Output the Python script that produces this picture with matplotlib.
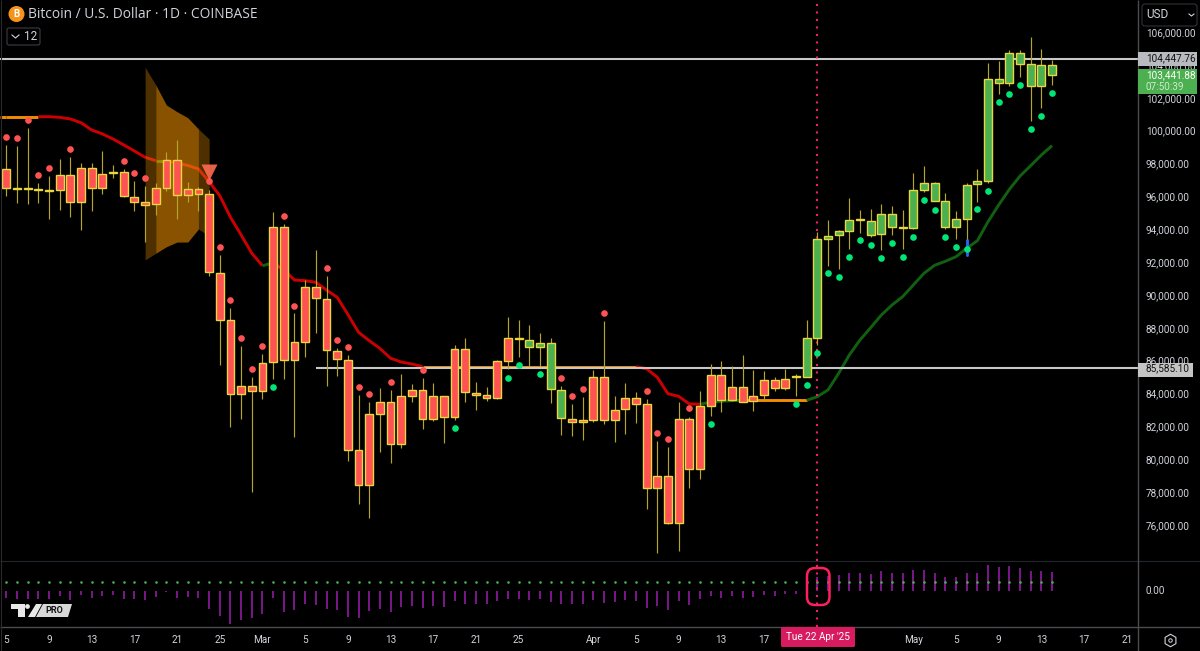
import matplotlib
matplotlib.use("Agg")
import matplotlib.pyplot as plt
from matplotlib.patches import Circle, FancyBboxPatch, Polygon, Rectangle

# day index 0 = 5 Feb '25, one candle per day up to 14 May '25
body_top = [97730, 96580, 96560, 96500, 96460, 97360, 97380, 97790, 97810, 97440,
            97560, 97530, 96040, 95720, 96550, 98270, 98270, 96490, 96510, 96190,
            91420, 88520, 84540, 84540, 85940, 94200, 94200, 87180, 90530, 90530,
            89830, 86670, 86100, 80610, 82820, 83570, 83570, 83910, 84260, 84260,
            83910, 83910, 86790, 86790, 84110, 83970, 86020, 87420, 87450, 87340,
            87140, 87120, 84300, 82530, 82450, 85090, 85070, 83080, 83770, 83770,
            83410, 79040, 79040, 82510, 82510, 83280, 85170, 85170, 84480, 84480,
            83930, 84870, 84870, 84960, 85100, 87440, 93450, 93670, 93940, 94640,
            94700, 94580, 94970, 94970, 94190, 96450, 96860, 96870, 95800, 94670,
            96770, 97000, 103190, 103190, 104770, 104770, 104100, 104070, 104070]
body_bot = [96590, 96520, 96500, 96440, 96400, 96450, 95740, 95740, 96590, 96590,
            97500, 96080, 95740, 95550, 95580, 96590, 96130, 96130, 96220, 91480,
            88540, 84050, 84050, 84230, 84230, 85960, 86100, 86100, 87220, 89860,
            86710, 86150, 80640, 78480, 78480, 82840, 81010, 81010, 83930, 82510,
            82510, 82630, 82630, 84140, 83990, 83790, 83790, 86060, 87390, 86880,
            86880, 84340, 82550, 82310, 82310, 82470, 82450, 82430, 83140, 83440,
            78290, 78290, 76200, 76200, 79490, 79490, 83320, 83670, 83670, 83570,
            83590, 83970, 84400, 84400, 85040, 85090, 87460, 93450, 93690, 93970,
            94640, 93730, 93750, 94220, 94120, 94140, 96470, 95800, 94220, 94220,
            94700, 96800, 97020, 102980, 102960, 104120, 102780, 102780, 103440]
wick_high = [99190, 99140, 100200, 96860, 97300, 98320, 98460, 98070, 98070, 98840,
             97950, 97710, 97000, 96690, 96860, 98740, 99470, 96940, 96610, 96450,
             92490, 89250, 86950, 85050, 86470, 95090, 94380, 88950, 90970, 92800,
             91220, 86810, 86410, 83970, 83530, 84380, 84260, 85250, 84640, 85010,
             84700, 83910, 87000, 87440, 84760, 84440, 86080, 88740, 88540, 88230,
             87730, 87440, 84520, 83430, 83830, 85490, 88460, 83890, 84680, 84170,
             83710, 81150, 80790, 83530, 82650, 84230, 85860, 86040, 85760, 86430,
             85480, 85450, 85050, 85540, 85250, 88540, 93910, 94620, 94010, 95940,
             95230, 95290, 95610, 95460, 95210, 97500, 97910, 96920, 96270, 95170,
             96860, 97710, 104160, 104320, 104970, 104970, 105740, 105010, 104360]
wick_low = [96100, 95640, 95580, 95640, 94680, 95210, 94790, 94030, 95190, 96220,
            97200, 96020, 95170, 93280, 94950, 96370, 94680, 95720, 95190, 91230,
            85780, 82040, 82490, 78090, 83710, 84950, 84950, 81400, 86270, 87730,
            84540, 85130, 79940, 77340, 76510, 80500, 79810, 80730, 83570, 81920,
            82370, 81070, 82470, 83550, 83060, 83630, 83750, 85540, 86270, 85740,
            85740, 83500, 81560, 81500, 81220, 82350, 82230, 81130, 81580, 82290,
            77020, 74340, 76120, 74500, 78330, 78860, 82710, 82960, 83630, 83570,
            83020, 83670, 84230, 84280, 83910, 85070, 87020, 91840, 91640, 92840,
            93850, 93610, 92780, 93710, 92880, 94090, 96350, 95760, 94090, 93450,
            92430, 95740, 96860, 102290, 102800, 103330, 100670, 101420, 102840]
green_days = [49, 50, 51, 52, 75, 76, 77, 78, 79, 80, 81, 82, 83, 84, 85, 86, 87,
              88, 89, 90, 91, 92, 93, 94, 95, 96, 97, 98]

trend = [100910, 100910, 100910, 100910, 100910, 100870, 100770, 100540, 100100, 99860,
         99550, 99190, 98820, 98440, 98230, 98230, 98090, 97940, 97730, 96950,
         96100, 94790, 93710, 92600, 91840, 92010, 91580, 90970, 90930, 90830,
         90360, 89920, 88880, 87790, 87280, 86810, 86210, 85980, 85860, 85700,
         85700, 85700, 85700, 85700, 85700, 85700, 85700, 85700, 85700, 85700,
         85700, 85700, 85700, 85700, 85700, 85700, 85700, 85700, 85700, 85700,
         85570, 85050, 84050, 83890, 83430, 83410, 83530, 83590, 83630, 83650,
         83650, 83650, 83650, 83650, 83650, 83650, 83870, 84280, 85290, 86410,
         87320, 88070, 88840, 89450, 89960, 90670, 91380, 91870, 92110, 92390,
         92900, 93360, 94520, 95540, 96490, 97300, 97930, 98580, 99150]

sell_days = [0, 1, 2, 3, 4, 6, 11, 12, 13, 19, 20, 21, 22, 23, 24, 26, 27, 30, 31, 32,
             33, 34, 36, 39, 52, 53, 54, 56, 60, 61, 62, 64]
sell_dots = [99670, 99610, 100690, 97360, 97790, 98940, 98200, 97500, 97180, 96980,
             92980, 89740, 87420, 85560, 86950, 94850, 89410, 91700, 87300, 86890,
             84460, 84030, 84750, 85510, 85010, 83930, 84340, 88960, 84200, 81640,
             81280, 83160]
buy_days = [25, 42, 47, 48, 50, 66, 74, 75, 76, 77, 78, 79, 80, 81, 82, 83, 84, 85,
            86, 87, 88, 89, 90, 91, 92, 93, 94, 95, 96, 97, 98]
buy_dots = [84460, 81980, 84990, 85800, 85250, 82210, 83430, 84600, 86530, 91380,
            91150, 92350, 93390, 93120, 92310, 93240, 92370, 93610, 95860, 95230,
            93610, 92960, 92860, 95270, 96370, 101820, 102310, 102840, 100180, 100930,
            102350]

# orange zone around the 24 Feb breakdown
zone_days = [13, 14, 15, 16, 17, 18, 19]
zone_top = [103920, 102840, 101620, 101210, 100850, 100160, 99550]
zone_bot = [92190, 92600, 93000, 93280, 93280, 94080, 93650]
signal_day = [19]
signal_price = [97540]
cursor_day = 76

level_high = 104447.76
level_low = 85585.10
last_price = 103441.88

momentum = [-7.3, -8, -8, -8, -8, -5.3, -8.7, -4, -7, -4.7,
            -4, -8, -8.3, -8.7, -5.7, -0.7, -7, -5.7, -6.7, -18.3,
            -25, -32.7, -29, -27.3, -22.7, -7.3, -21.3, -19, -12.7, -14,
            -18.3, -18.7, -26.3, -27.3, -19.7, -18.3, -20.7, -16, -15, -17.3,
            -14.7, -16, -10.3, -13.3, -13.3, -13, -9.7, -8, -8, -8.7,
            -8, -11, -13, -13, -12.7, -9, -12, -10.7, -9.3, -10,
            -16.7, -15.3, -19, -9.7, -13.7, -8, -5, -7, -5.3, -6.7,
            -5.7, -4, -4.7, -3.3, -3, 2, 14, 15, 16, 17.7,
            18.3, 16.7, 19.7, 18.3, 17.7, 21.3, 21, 18.3, 14, 14.3,
            18, 18, 26.3, 24, 25, 22.7, 19.7, 20.3, 18.7]
momentum_dot = 9.0

y_ticks = [76000, 78000, 80000, 82000, 84000, 86000, 88000, 90000, 92000, 94000,
           96000, 98000, 100000, 102000, 104000, 106000]
x_tick_days = [0, 4, 8, 12, 16, 20, 24, 28, 32, 36, 40, 44, 48, 55, 59, 63, 67, 71, 75, 79,
               85, 89, 93, 97, 101, 105]
x_tick_labels = ['5', '9', '13', '17', '21', '25', 'Mar', '5', '9', '13', '17', '21', '25',
                 'Apr', '5', '9', '13', '17', '21', '25', 'May', '5', '9', '13', '17', '21']

BG = '#000000'
TEXT = '#D1D4DC'
RED = '#FF5252'
GREEN = '#4CAF50'
BORDER = '#E8D83C'
WICK = '#B5A52B'
CURSOR = '#F01E66'
FONT = 'Roboto'
TITLE_FONT = 'Open Sans'
LABEL_SIZE = 7.2

W, H = 1200, 651
DAY_PX = 10.67
PX0 = 6.4
PRICE_PER_PX = 60.86
PRICE_AT_TOP = 108012
PANE_TOP, PANE_BOT = 561, 627
AXIS_X = 1138


def px_to_fig(x0, y0, x1, y1):
    return [x0 / W, 1 - y1 / H, (x1 - x0) / W, (y1 - y0) / H]


def day_limits():
    return (0 - PX0) / DAY_PX, (AXIS_X - PX0) / DAY_PX


def draw_trend(ax):
    days = list(range(len(trend)))
    segments = [(0, 3, '#F28C00'), (3, 14, '#CC0000'), (14, 15, '#2E7D12'), (15, 24, '#CC0000'),
                (24, 25, '#116011'), (25, 39, '#CC0000'), (39, 59, '#F28C00'), (59, 65, '#CC0000'),
                (65, 69, '#116011'), (69, 75, '#F28C00'), (75, 98, '#116011')]
    ax.hlines(trend[0], day_limits()[0], 0, color='#F28C00', lw=2.1, zorder=2)
    for start, end, color in segments:
        ax.plot(days[start:end + 1], trend[start:end + 1], color=color, lw=2.1,
                solid_capstyle='butt', zorder=2)


def draw_candles(ax):
    days = list(range(len(body_top)))
    heights = [t - b for t, b in zip(body_top, body_bot)]
    colors = [GREEN if d in green_days else RED for d in days]
    ax.vlines(days, wick_low, wick_high, color=WICK, lw=0.85, zorder=4)
    ax.bar(days, heights, bottom=body_bot, width=0.74, color=colors, edgecolor=BORDER,
           linewidth=1.0, zorder=5)


def draw_main(fig):
    ax = fig.add_axes(px_to_fig(0, 0, AXIS_X, PANE_TOP))
    ax.set_facecolor(BG)
    ax.set_xlim(*day_limits())
    ax.set_ylim(PRICE_AT_TOP - PRICE_PER_PX * PANE_TOP, PRICE_AT_TOP)
    ax.axis('off')

    draw_trend(ax)

    # zone sits over the line but under the candles, edges are darker
    ax.fill_between(zone_days[:2], zone_top[:2], zone_bot[:2], color='#F59300', alpha=0.32, lw=0, zorder=3)
    ax.fill_between(zone_days[1:6], zone_top[1:6], zone_bot[1:6], color='#F59300', alpha=0.56, lw=0, zorder=3)
    ax.fill_between(zone_days[5:], zone_top[5:], zone_bot[5:], color='#F59300', alpha=0.32, lw=0, zorder=3)

    ax.hlines(level_high, day_limits()[0], day_limits()[1], color='#C8C8C8', lw=1.5, zorder=3)
    ax.hlines(level_low, 29.0, day_limits()[1], color='#C8C8C8', lw=1.5, zorder=3)

    # cursor goes behind the candles
    ax.axvline(cursor_day, color=CURSOR, lw=1.5, linestyle=(0, (1, 2.6)), zorder=3.5)

    draw_candles(ax)
    ax.vlines([90], [92410], [93450], color='#2962FF', lw=2, zorder=6)

    ax.scatter(sell_days, sell_dots, s=23, color=RED, lw=0, zorder=7)
    ax.scatter(buy_days, buy_dots, s=23, color='#00E676', lw=0, zorder=7)
    ax.plot(signal_day, signal_price, 'v', ms=11, mfc='#FF6A50', mec='none', alpha=0.9, zorder=8)
    return ax


def draw_pane(fig):
    ax = fig.add_axes(px_to_fig(0, PANE_TOP, AXIS_X, PANE_BOT))
    ax.set_facecolor(BG)
    ax.set_xlim(*day_limits())
    ax.set_ylim(-36, 30)
    ax.axis('off')
    days = list(range(len(momentum)))
    ax.vlines(days, 0, momentum, color='#9C1FB0', lw=1.1)
    ax.scatter(days, [momentum_dot for _ in days], s=3.5, color='#4CAF50', lw=0, zorder=3)
    ax.axvline(cursor_day, color=CURSOR, lw=1.5, linestyle=(0, (1, 2.6)), zorder=4)
    return ax


def draw_overlay(fig):
    # chrome drawn in pixel coordinates on top of the panes
    ov = fig.add_axes([0, 0, 1, 1])
    ov.set_xlim(0, W)
    ov.set_ylim(H, 0)
    ov.axis('off')
    ov.patch.set_alpha(0)

    # frame lines
    ov.hlines(PANE_TOP, 0, W, color='#22252B', lw=0.8)
    ov.hlines(PANE_BOT, 0, W, color='#4A4C50', lw=1)
    ov.vlines(AXIS_X, 0, H, color='#4A4C50', lw=1)
    ov.vlines(0.5, 0, H, color='#2A2A2A', lw=0.8)

    # price axis labels, tags go over them
    for price in y_ticks:
        y = (PRICE_AT_TOP - price) / PRICE_PER_PX
        ov.text(1146, y, f'{price:,.2f}', color=TEXT, fontsize=LABEL_SIZE, va='center', family=FONT, zorder=2)
    ov.text(1146, 591, '0.00', color=TEXT, fontsize=LABEL_SIZE, va='center', family=FONT)

    y_high = (PRICE_AT_TOP - level_high) / PRICE_PER_PX
    y_low = (PRICE_AT_TOP - level_low) / PRICE_PER_PX
    ov.add_patch(Rectangle((AXIS_X, 52), 59, 14, color='#B8BABF', lw=0, zorder=4))
    ov.text(1146, y_high, f'{level_high:,.2f}', color='#111111', fontsize=LABEL_SIZE, va='center', family=FONT, zorder=5)
    ov.add_patch(Rectangle((AXIS_X, 363), 55, 14, color='#C4C4C4', lw=0, zorder=4))
    ov.text(1146, y_low, f'{level_low:,.2f}', color='#111111', fontsize=LABEL_SIZE, va='center', family=FONT, zorder=5)
    ov.add_patch(Rectangle((AXIS_X, 69), 59, 25, color=GREEN, lw=0, zorder=4))
    ov.text(1146, 75, f'{last_price:,.2f}', color='white', fontsize=LABEL_SIZE, va='center', family=FONT, zorder=5)
    ov.text(1146, 87, '07:50:39', color='#CDEBCF', fontsize=LABEL_SIZE, va='center', family=FONT, zorder=5)

    # time axis
    for day, label in zip(x_tick_days, x_tick_labels):
        ov.text(PX0 + DAY_PX * day, 640, label, color=TEXT, fontsize=LABEL_SIZE, ha='center', va='center',
                family=FONT, zorder=2)
    ov.add_patch(FancyBboxPatch((781, 627), 74, 20, boxstyle='round,pad=0,rounding_size=1.5',
                                fc='#D81B60', ec='none', zorder=4))
    ov.text(818, 637.5, "Tue 22 Apr '25", color='white', fontsize=LABEL_SIZE, ha='center', va='center',
            family=FONT, zorder=5)

    # highlighted crossing in the lower pane
    ov.add_patch(FancyBboxPatch((810, 571), 16.5, 31, boxstyle='round,pad=3,rounding_size=8',
                                fc='none', ec='#FF1F5F', lw=1.8, zorder=6))

    # header
    ov.add_patch(Circle((16.5, 14), 8, color='#F7931A', lw=0))
    ov.text(16.5, 14, 'B', color='white', fontsize=7, fontweight='bold', ha='center', va='center', family=FONT)
    ov.text(28, 14, 'Bitcoin / U.S. Dollar · 1D · COINBASE', color=TEXT, fontsize=9.9, va='center', family=TITLE_FONT)
    ov.add_patch(FancyBboxPatch((7, 28), 33, 17, boxstyle='round,pad=0,rounding_size=2',
                                fc='none', ec='#3A3D44', lw=0.8))
    ov.plot([12, 15.5, 19], [35, 38, 35], color=TEXT, lw=0.8)
    ov.text(24, 36.5, '12', color=TEXT, fontsize=8.5, va='center', family=FONT)

    ov.add_patch(FancyBboxPatch((1142, 4), 55, 22, boxstyle='round,pad=0,rounding_size=3',
                                fc='none', ec='#2F3238', lw=0.8))
    ov.text(1146, 15, 'USD', color=TEXT, fontsize=8.5, va='center', family=FONT)
    ov.plot([1189, 1191.5, 1194], [14, 16, 14], color=TEXT, lw=0.8)

    # settings button
    ov.plot([1170], [640], 'h', ms=9, mfc='none', mec=TEXT, mew=0.8)
    ov.plot([1170], [640], 'o', ms=2.5, mfc='none', mec=TEXT, mew=0.7)

    # watermark
    ov.add_patch(Polygon([(11, 604), (25, 604), (25, 617), (18, 617), (18, 609), (11, 609)], color='#E8E8E8', lw=0))
    ov.add_patch(Circle((27.5, 606.5), 2.4, color='#E8E8E8', lw=0))
    ov.add_patch(Polygon([(36, 604), (42, 604), (35, 617), (28, 617)], color='#E8E8E8', lw=0))
    ov.add_patch(Polygon([(43, 604), (72, 604), (68, 617), (36, 617)], color='#D8D8D8', lw=0))
    ov.text(54, 610.5, 'PRO', color='#111111', fontsize=6.5, fontweight='bold', ha='center', va='center', family=FONT)


if __name__ == "__main__":
    fig = plt.figure(figsize=(W / 100, H / 100), dpi=100, facecolor=BG)
    draw_main(fig)
    draw_pane(fig)
    draw_overlay(fig)
    fig.savefig('out.png', dpi=100, facecolor=BG)
    plt.close(fig)
